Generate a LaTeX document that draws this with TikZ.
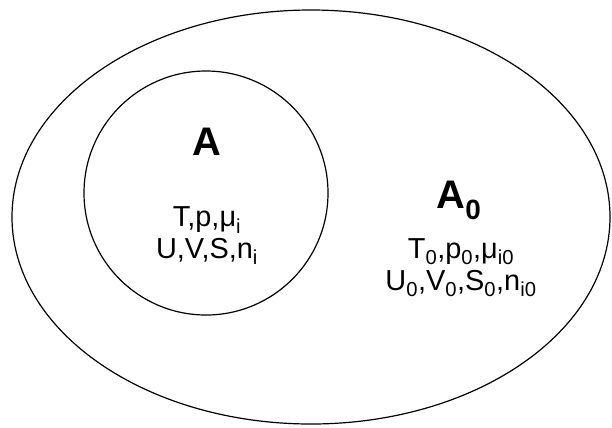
\documentclass[tikz,border=0pt]{standalone}
\usepackage{fontspec}
\setmainfont{Liberation Sans}
\usepackage{tikz}

\begin{document}
\begin{tikzpicture}[x=1bp,y=-1bp,
  every node/.style = {align=center, inner sep=0pt},
  label text/.style = {font=\fontsize{40}{40}\bfseries\selectfont},
  var text/.style = {font=\fontsize{29}{32}\selectfont},
  wall/.style = {draw, line width=1.2bp}]
  \useasboundingbox (0,0) rectangle (612,427);
  \draw[wall] (311,217) ellipse [x radius=299, y radius=207];
  \draw[wall] (206,193) circle [radius=122];
  \node[label text] (sys) at (207,142) {A};
  \node[var text] (sysvars) at (207,236) {T,p,μ\textsubscript{i}\\U,V,S,n\textsubscript{i}};
  \node[label text] (res) at (459,200) {A\textsubscript{0}};
  \node[var text] (resvars) at (461,268) {T\textsubscript{0},p\textsubscript{0},μ\textsubscript{i0}\\U\textsubscript{0},V\textsubscript{0},S\textsubscript{0},n\textsubscript{i0}};
\end{tikzpicture}
\end{document}
